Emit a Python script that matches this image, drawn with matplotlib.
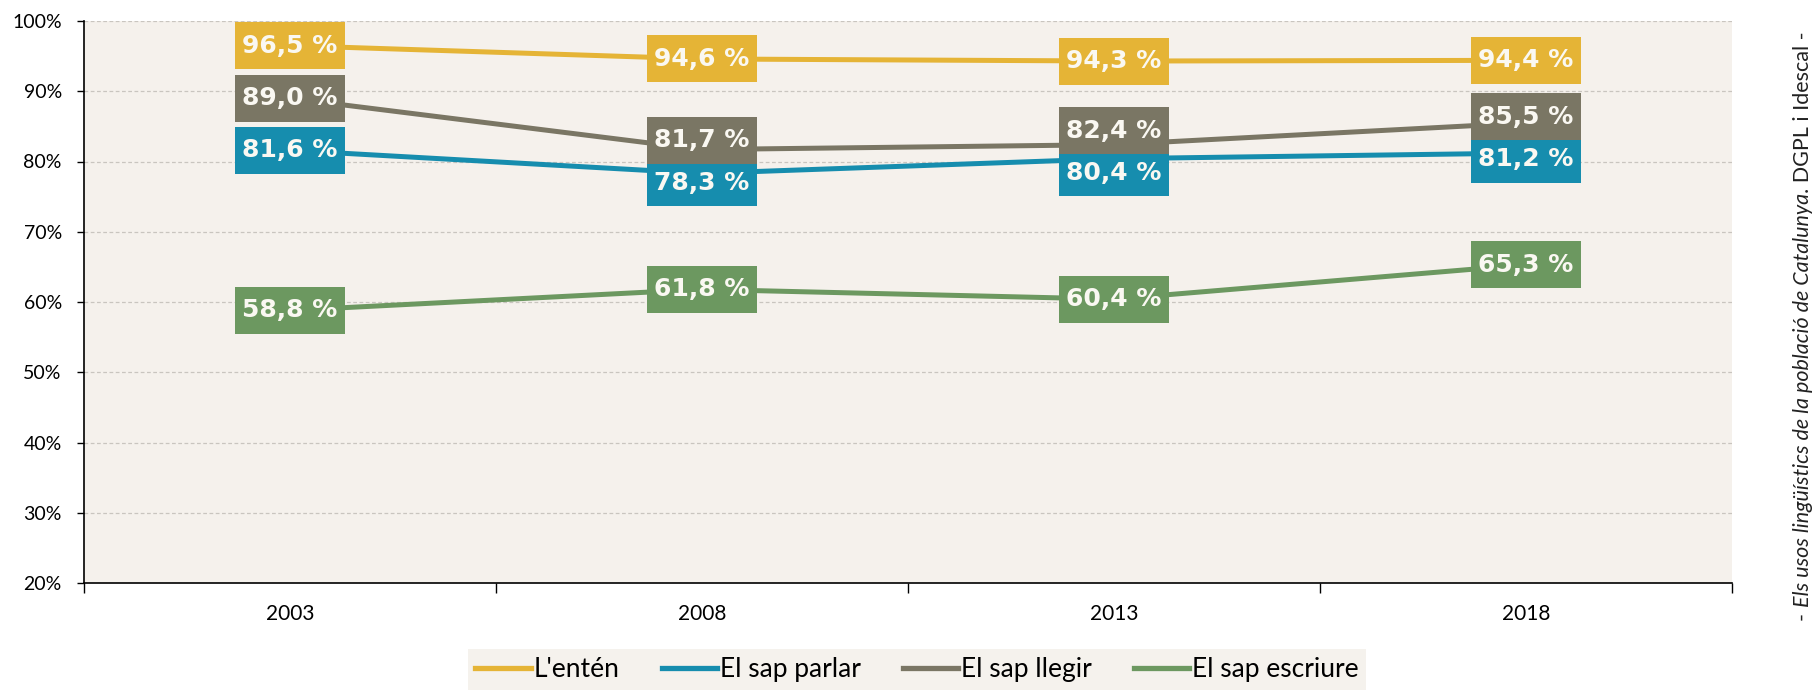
import matplotlib
matplotlib.use('Agg')
import matplotlib.pyplot as plt
from matplotlib.lines import Line2D
from matplotlib.path import Path

# Chart data
years = ['2003', '2008', '2013', '2018']
series_names = ["L'entén", 'El sap parlar', 'El sap llegir', 'El sap escriure']
enten = [96.5, 94.6, 94.3, 94.4]
parlar = [81.6, 78.3, 80.4, 81.2]
llegir = [89.0, 81.7, 82.4, 85.5]
escriure = [58.8, 61.8, 60.4, 65.3]
y_ticks = [20, 30, 40, 50, 60, 70, 80, 90, 100]
source_parts = ['- ', 'Els usos lingüístics de la població de Catalunya', '. DGPL i Idescal -']

series = [enten, parlar, llegir, escriure]
colors = ['#E5B436', '#168DAE', '#7A7664', '#6C9860']
W, H = 1818, 690


def label_box(x0, y0, width, height, mutation_size):
    # rectangle with more padding top/bottom than left/right
    px, py = 0.28 * mutation_size, 0.46 * mutation_size
    verts = [(x0 - px, y0 - py), (x0 + width + px, y0 - py),
             (x0 + width + px, y0 + height + py), (x0 - px, y0 + height + py),
             (x0 - px, y0 - py)]
    return Path(verts, closed=True)


fig = plt.figure(figsize=(W / 100, H / 100), dpi=100)
ax = fig.add_axes([84 / W, 1 - 583 / H, (1732 - 84) / W, (583 - 21) / H])
ax.set_facecolor('#F5F1EC')

x = list(range(len(years)))
for vals, col in zip(series, colors):
    ax.plot(x, vals, color=col, lw=3.6, solid_capstyle='butt', zorder=3)

# value boxes, pushed apart where they would overlap
box_h = 6.0
for i in x:
    items = sorted([(s[i], k) for k, s in enumerate(series)])
    pos = [v for v, _ in items]
    for _ in range(20):
        for j in range(len(pos) - 1):
            gap = pos[j + 1] - pos[j]
            if gap < box_h:
                d = (box_h - gap) / 2
                pos[j] -= d
                pos[j + 1] += d
    for (v, k), yp in zip(items, pos):
        ax.text(i, yp, f'{v:.1f} %'.replace('.', ','), ha='center', va='center',
                fontsize=18, fontweight='bold', family='DejaVu Sans', color='#FAF8F2',
                bbox=dict(boxstyle=label_box, facecolor=colors[k], edgecolor='none'),
                zorder=4)

ax.set_xlim(-0.5, len(years) - 0.5)
ax.set_ylim(20, 100)
ax.set_yticks(y_ticks)
ax.set_yticklabels([f'{t}%' for t in y_ticks], family='Lato', fontsize=14)
ax.set_xticks(x)
ax.set_xticklabels(years, family='Lato', fontsize=15)
ax.set_xticks([i - 0.5 for i in range(len(years) + 1)], minor=True)
ax.tick_params(axis='x', which='major', length=0, pad=15)
ax.tick_params(axis='x', which='minor', length=7, width=1, direction='out')
ax.tick_params(axis='y', length=5, width=1, direction='out', pad=11)
ax.yaxis.grid(True, linestyle=(0, (3, 2)), color='#C9C5BF', lw=0.9, zorder=0)
ax.set_axisbelow(True)
for s in ['top', 'right']:
    ax.spines[s].set_visible(False)
for s in ['left', 'bottom']:
    ax.spines[s].set_color('black')
    ax.spines[s].set_linewidth(1.2)

handles = [Line2D([], [], color=c, lw=3.8) for c in colors]
leg = fig.legend(handles, series_names, loc='lower center', bbox_to_anchor=(917 / W, 0),
                 borderaxespad=0, ncol=4, frameon=True, fancybox=False,
                 facecolor='#F3EFE9', edgecolor='none',
                 handlelength=2.1, handletextpad=0.1, columnspacing=1.6, borderpad=0.3,
                 prop={'family': 'Lato', 'size': 19})

# vertical source note on the right, italic title in the middle
fig.canvas.draw()
renderer = fig.canvas.get_renderer()
styles = ['normal', 'italic', 'normal']
texts = []
for part, st in zip(source_parts, styles):
    t = fig.text(0, 0, part, rotation=90, rotation_mode='anchor', ha='left', va='center',
                 family='Lato', style=st, fontsize=15.5, color='#222222')
    texts.append(t)
lengths = [t.get_window_extent(renderer).height for t in texts]
total = sum(lengths)
cx, cy = 1803, H - 326
start = cy - total / 2
for t, L in zip(texts, lengths):
    t.set_position((cx / W, start / H))
    start += L

fig.savefig('out.png', dpi=100)
